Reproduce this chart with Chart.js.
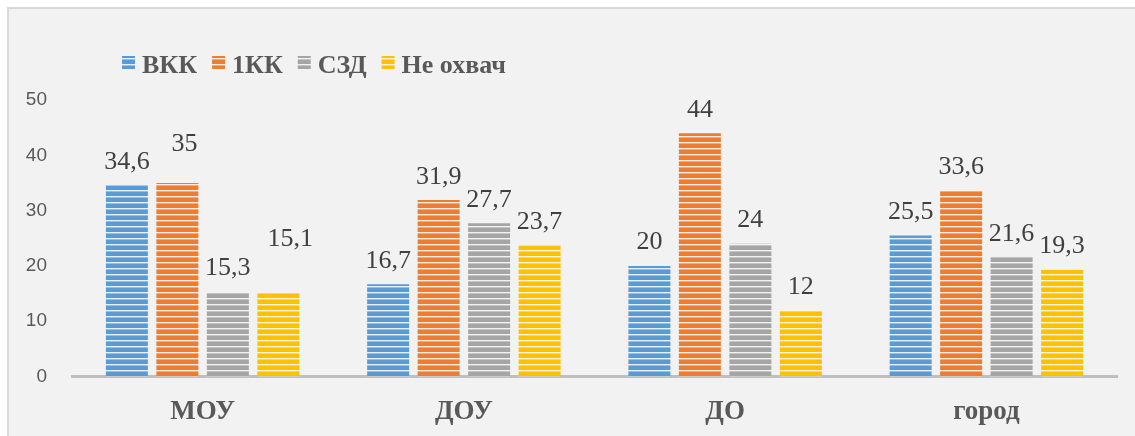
<!DOCTYPE html>
<html><head><meta charset="utf-8">
<script src="https://cdn.jsdelivr.net/npm/chart.js@4"></script>
<style>
html,body{margin:0;padding:0;background:#fff;width:1135px;height:436px;overflow:hidden}
#frame{position:absolute;left:7px;top:7px;width:1140px;height:440px;box-sizing:border-box;border-left:2px solid #d9d9d9;border-top:2px solid #d9d9d9;background:#f2f2f2}
#wrap{position:absolute;left:0;top:0;width:1135px;height:436px}
</style></head><body>
<div id="frame"></div>
<div id="wrap"><canvas id="c" width="1135" height="436"></canvas></div>
<script>
// ---- data ----
const categories = ['МОУ', 'ДОУ', 'ДО', 'город'];
const seriesNames = ['ВКК', '1КК', 'СЗД', 'Не охвач'];
const vkk = [34.6, 16.7, 20, 25.5];
const kk1 = [35, 31.9, 44, 33.6];
const szd = [15.3, 27.7, 24, 21.6];
const neOhvach = [15.1, 23.7, 12, 19.3];
const yTicks = [0, 10, 20, 30, 40, 50];

// ---- styles ----
const seriesColors = ['#5b9bd5', '#ed7d31', '#a5a5a5', '#ffc000'];

function stripePattern(color) {
  const c = document.createElement('canvas');
  c.width = 4; c.height = 6;
  const g = c.getContext('2d');
  g.fillStyle = color; g.fillRect(0, 0, 4, 6);
  g.fillStyle = 'rgba(255,255,255,0.85)'; g.fillRect(0, 4, 4, 1);
  g.fillStyle = 'rgba(255,255,255,0.35)'; g.fillRect(0, 5, 4, 1);
  return g.createPattern(c, 'repeat');
}
const patterns = seriesColors.map(stripePattern);

const seriesValues = [vkk, kk1, szd, neOhvach];

const valueLabels = {
  id: 'valueLabels',
  afterDatasetsDraw(chart, args, opts) {
    const ctx = chart.ctx;
    ctx.save();
    ctx.font = '26px "Liberation Serif", "Times New Roman", serif';
    ctx.fillStyle = '#404040';
    ctx.textAlign = 'center';
    ctx.textBaseline = 'alphabetic';
    chart.data.datasets.forEach((ds, i) => {
      const meta = chart.getDatasetMeta(i);
      meta.data.forEach((bar, j) => {
        const n = (opts.nudge[i] || {})[j] || [0, 0];
        ctx.fillText(String(ds.data[j]).replace('.', ','), bar.x + n[0], bar.y - opts.gap + n[1]);
      });
    });
    ctx.restore();
  }
};

const manualLegend = {
  id: 'manualLegend',
  afterDraw(chart, args, opts) {
    const ctx = chart.ctx;
    ctx.save();
    ctx.font = 'bold 26px "Liberation Serif", "Times New Roman", serif';
    ctx.textBaseline = 'alphabetic';
    ctx.textAlign = 'left';
    let x = opts.x;
    chart.data.datasets.forEach(ds => {
      ctx.fillStyle = ds.backgroundColor;
      ctx.fillRect(x, opts.y - 7, 13, 13);
      ctx.fillStyle = '#595959';
      const tx = x + 13 + 7;
      ctx.fillText(ds.label, tx, opts.y + 10);
      x = tx + ctx.measureText(ds.label).width + 15;
    });
    ctx.restore();
  }
};

new Chart(document.getElementById('c'), {
  type: 'bar',
  data: {
    labels: categories,
    datasets: seriesNames.map((name, i) => ({
      label: name,
      data: seriesValues[i],
      backgroundColor: patterns[i],
      borderWidth: 0,
      categoryPercentage: 0.773,
      barPercentage: 0.832
    }))
  },
  options: {
    responsive: false,
    devicePixelRatio: 1,
    animation: false,
    layout: { padding: { left: 0, right: 18, top: 100, bottom: 0 } },
    plugins: {
      legend: { display: false },
      tooltip: { enabled: false },
      valueLabels: { gap: 16.5, nudge: { 1: { 0: [7, -15] }, 3: { 0: [12, -30] } } },
      manualLegend: { x: 122, y: 63 }
    },
    scales: {
      x: {
        z: 1,
        afterFit(s) { s.height = 59.5; },
        grid: { display: false, drawTicks: false },
        border: { display: true, color: '#bfbfbf', width: 3 },
        ticks: {
          padding: 19,
          color: '#595959',
          font: { family: '"Liberation Serif", "Times New Roman", serif', size: 27, weight: 'bold' }
        }
      },
      y: {
        min: 0, max: 50,
        afterFit(s) { s.width = 72; },
        afterBuildTicks(s) { s.ticks = yTicks.map(v => ({ value: v })); },
        grid: { display: false, drawTicks: false },
        border: { display: false },
        ticks: {
          padding: 25,
          color: '#595959',
          font: { family: '"Liberation Sans", Arial, sans-serif', size: 19 }
        }
      }
    }
  },
  plugins: [valueLabels, manualLegend]
});
</script>
</body></html>
